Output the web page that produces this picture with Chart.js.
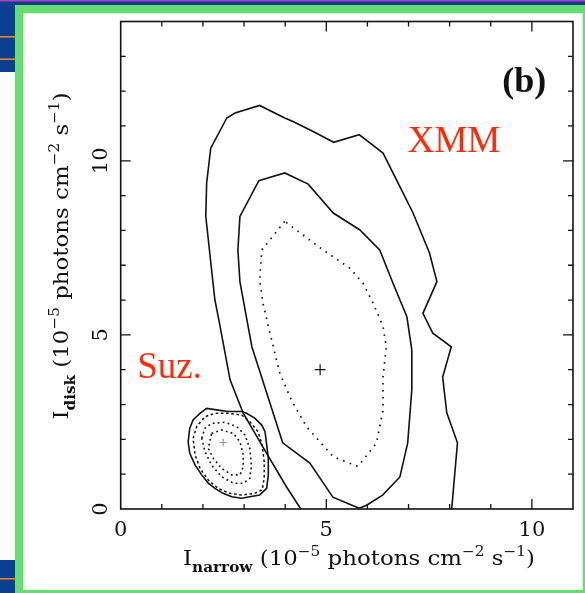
<!DOCTYPE html>
<html>
<head>
<meta charset="utf-8">
<script src="https://cdn.jsdelivr.net/npm/chart.js@4.4.1/dist/chart.umd.min.js"></script>
<style>
  html, body { margin: 0; padding: 0; background: #fff; }
  #wrap { position: relative; width: 585px; height: 593px; }
</style>
</head>
<body>
<div id="wrap"><canvas id="chart"></canvas></div>
<script>
const xTicks = [0, 5, 10];
const yTicks = [0, 5, 10];

// XMM confidence contours: [I_narrow, I_disk]
const xmmOuter = [
  [4.38, 0], [4.03, 0.64], [3.55, 1.60], [2.98, 2.75], [2.66, 3.71], [2.41, 5.29],
  [2.29, 6.01], [2.21, 6.87], [2.07, 8.40], [2.09, 9.36], [2.19, 10.36], [2.58, 11.23],
  [2.78, 11.37], [3.38, 11.59], [3.99, 11.23], [4.19, 11.13], [4.68, 10.84], [5.18, 10.53],
  [5.80, 10.75], [6.38, 10.22], [6.79, 9.26], [7.11, 8.50], [7.51, 7.35], [7.69, 6.53],
  [7.35, 5.62], [7.59, 5.05], [8.04, 4.66], [7.83, 3.79], [7.93, 2.76], [8.19, 1.90], [8.05, 0]
];
const xmmMiddle = [
  [5.80, 0.02], [5.16, 0.34], [4.60, 1.32], [3.94, 1.90], [3.19, 4.66], [2.90, 6.52],
  [2.85, 7.44], [2.90, 8.40], [3.36, 9.43], [3.99, 9.65], [4.56, 9.33], [5.17, 8.50],
  [5.81, 8.02], [6.30, 7.44], [6.62, 6.49], [6.96, 5.52], [7.08, 4.57], [7.08, 3.42],
  [6.98, 1.90], [6.79, 0.92], [6.37, 0.40], [5.98, 0.11], [5.80, 0.02]
];
const xmmInner = [
  [3.99, 8.26], [3.43, 7.44], [3.38, 6.58], [3.46, 5.91], [3.63, 5.05], [3.87, 3.90],
  [4.15, 3.13], [4.52, 2.36], [5.17, 1.50], [5.77, 1.22], [6.22, 1.89], [6.38, 2.84],
  [6.38, 3.80], [6.46, 4.66], [6.38, 5.24], [6.14, 5.91], [5.89, 6.49], [5.57, 6.92],
  [4.92, 7.44], [3.99, 8.26]
];
const xmmBest = [[4.85, 4.0]];

// Suzaku confidence contours
const suzOuter = [
  [1.68, 2.32], [1.76, 2.56], [1.93, 2.75], [2.09, 2.89], [2.37, 2.84], [2.61, 2.80],
  [2.94, 2.80], [3.06, 2.75], [3.26, 2.61], [3.43, 2.41], [3.51, 2.22], [3.55, 1.84],
  [3.59, 1.46], [3.59, 0.98], [3.55, 0.59], [3.38, 0.40], [3.14, 0.35], [2.94, 0.31],
  [2.70, 0.35], [2.49, 0.45], [2.29, 0.59], [2.13, 0.74], [1.97, 0.98], [1.81, 1.26],
  [1.68, 1.60], [1.64, 1.93], [1.68, 2.32]
];
const suzDashed = [
  [1.76, 2.03], [1.85, 2.37], [2.05, 2.65], [2.29, 2.75], [2.61, 2.75], [2.94, 2.70],
  [3.14, 2.51], [3.34, 2.22], [3.44, 1.84], [3.49, 1.36], [3.49, 0.88], [3.44, 0.55],
  [3.26, 0.45], [2.94, 0.40], [2.65, 0.45], [2.37, 0.59], [2.13, 0.83], [1.93, 1.17],
  [1.81, 1.55], [1.76, 2.03]
];
const suzDotted1 = [
  [1.97, 2.03], [2.05, 2.32], [2.21, 2.46], [2.53, 2.49], [2.82, 2.37], [3.02, 2.13],
  [3.14, 1.74], [3.18, 1.26], [3.14, 0.88], [2.98, 0.74], [2.74, 0.74], [2.45, 0.93],
  [2.21, 1.26], [2.05, 1.65], [1.97, 2.03]
];
const suzDotted2 = [
  [2.21, 2.17], [2.45, 2.27], [2.74, 2.17], [2.90, 1.93], [2.98, 1.55], [2.98, 1.21],
  [2.90, 0.98], [2.70, 0.98], [2.45, 1.17], [2.25, 1.46], [2.13, 1.74], [2.21, 2.17]
];
const suzBest = [[2.49, 1.91]];

const toPts = (arr) => arr.map(([x, y]) => ({ x, y }));

const serif = '"DejaVu Serif", serif';
const times = '"Liberation Serif", "Times New Roman", serif';

function contour(data, dash, width) {
  return {
    data: toPts(data),
    showLine: true,
    borderColor: "#111",
    borderWidth: width || 1.6,
    borderDash: dash || [],
    pointRadius: 0,
    tension: 0,
    fill: false,
  };
}

function cross(data, color, r) {
  return {
    data: toPts(data),
    showLine: false,
    pointStyle: "cross",
    pointRadius: r,
    pointBorderColor: color,
    pointBorderWidth: 1.2,
    borderColor: color,
  };
}

// draws text with sub/superscript pieces along one baseline, stretched a bit wide
function richText(ctx, parts, cx, cy, rotate) {
  const fontFor = (k) => (k === "sub" ? "bold 14px " + serif : k === "sup" ? "14px " + serif : "21px " + serif);
  ctx.save();
  ctx.translate(cx, cy);
  if (rotate) ctx.rotate(-Math.PI / 2);
  ctx.scale(1.09, 1);
  ctx.textAlign = "left";
  ctx.textBaseline = "alphabetic";
  let total = 0;
  parts.forEach(([t, k]) => { ctx.font = fontFor(k); total += ctx.measureText(t).width; });
  let x = -total / 2;
  parts.forEach(([t, k]) => {
    ctx.font = fontFor(k);
    const dy = k === "sub" ? 7 : k === "sup" ? -9 : 0;
    ctx.fillText(t, x, dy);
    x += ctx.measureText(t).width;
  });
  ctx.restore();
}

const unitParts = [[" (10", ""], ["\u22125", "sup"], [" photons cm", ""], ["\u22122", "sup"], [" s", ""], ["\u22121", "sup"], [")", ""]];

const framePlugin = {
  id: "framePlugin",
  beforeDraw(chart) {
    const ctx = chart.ctx;
    ctx.save();
    // slide background pieces
    ctx.fillStyle = "#0c3f8f";
    ctx.fillRect(0, 0, 585, 6);
    ctx.fillRect(0, 0, 16, 72);
    ctx.fillRect(0, 560, 16, 33);
    ctx.fillStyle = "#b23fc0";
    ctx.fillRect(0, 0, 585, 1.5);
    ctx.fillStyle = "#ee8f1c";
    ctx.fillRect(0, 36, 15, 1.5);
    ctx.fillRect(0, 58.5, 15, 1.5);
    ctx.fillRect(0, 578, 15, 1.5);
    // green border
    ctx.fillStyle = "#66dd70";
    ctx.fillRect(15, 5, 570, 8.5);
    ctx.fillRect(15, 5, 8.5, 588);
    ctx.fillRect(582.5, 5, 2.5, 588);
    ctx.fillRect(15, 590, 570, 3);
    ctx.fillStyle = "#fff";
    ctx.fillRect(23.5, 13.5, 559, 576.5);
    ctx.restore();
  },
  afterDraw(chart) {
    const ctx = chart.ctx;
    const { left, right, top, bottom } = chart.chartArea;
    const xs = chart.scales.x, ys = chart.scales.y;
    ctx.save();
    ctx.strokeStyle = "#111";
    ctx.lineWidth = 1.6;
    ctx.strokeRect(left, top, right - left, bottom - top);
    ctx.lineWidth = 1.3;
    ctx.beginPath();
    for (let v = 1; v < 11; v++) {
      const px = xs.getPixelForValue(v), len = v % 5 === 0 ? 10 : 5;
      ctx.moveTo(px, bottom); ctx.lineTo(px, bottom - len);
      ctx.moveTo(px, top); ctx.lineTo(px, top + len);
    }
    for (let v = 1; v < 14; v++) {
      const py = ys.getPixelForValue(v), len = v % 5 === 0 ? 10 : 5;
      ctx.moveTo(left, py); ctx.lineTo(left + len, py);
      ctx.moveTo(right, py); ctx.lineTo(right - len, py);
    }
    ctx.stroke();

    // tick labels
    ctx.fillStyle = "#111";
    ctx.font = "21px " + serif;
    ctx.textAlign = "center";
    ctx.textBaseline = "alphabetic";
    xTicks.forEach((v) => ctx.fillText(String(v), xs.getPixelForValue(v), 536));
    yTicks.forEach((v) => {
      ctx.save();
      ctx.translate(107, ys.getPixelForValue(v));
      ctx.rotate(-Math.PI / 2);
      ctx.fillText(String(v), 0, 0);
      ctx.restore();
    });

    // axis titles
    richText(ctx, [["I", ""], ["narrow", "sub"]].concat(unitParts), 359, 565, false);
    richText(ctx, [["I", ""], ["disk", "sub"]].concat(unitParts), 68, 256, true);

    // panel tag and instrument names
    ctx.textAlign = "right";
    ctx.font = "bold 36px " + times;
    ctx.fillText("(b)", xs.getPixelForValue(10.35), 92);
    ctx.textAlign = "left";
    ctx.fillStyle = "#ff2a08";
    ctx.font = "37px " + times;
    ctx.fillText("XMM", xs.getPixelForValue(6.98), ys.getPixelForValue(10.26));
    ctx.fillText("Suz.", xs.getPixelForValue(0.40), ys.getPixelForValue(3.77));
    ctx.restore();
  },
};

new Chart(document.getElementById("chart"), {
  type: "scatter",
  data: {
    datasets: [
      contour(xmmOuter),
      contour(xmmMiddle),
      contour(xmmInner, [1.6, 5.4], 1.7),
      contour(suzOuter),
      contour(suzDashed, [2.6, 2.6], 1.5),
      contour(suzDotted1, [1.8, 3.2], 1.6),
      contour(suzDotted2, [1.8, 3.2], 1.6),
      cross(xmmBest, "#111", 5.5),
      cross(suzBest, "#999", 4),
    ],
  },
  options: {
    responsive: true,
    maintainAspectRatio: false,
    animation: false,
    layout: { padding: { left: 120.7, right: 12, top: 21.5, bottom: 84 } },
    plugins: { legend: { display: false }, tooltip: { enabled: false } },
    scales: {
      x: { type: "linear", min: 0, max: 11, display: false },
      y: { type: "linear", min: 0, max: 14, display: false },
    },
  },
  plugins: [framePlugin],
});
</script>
</body>
</html>
